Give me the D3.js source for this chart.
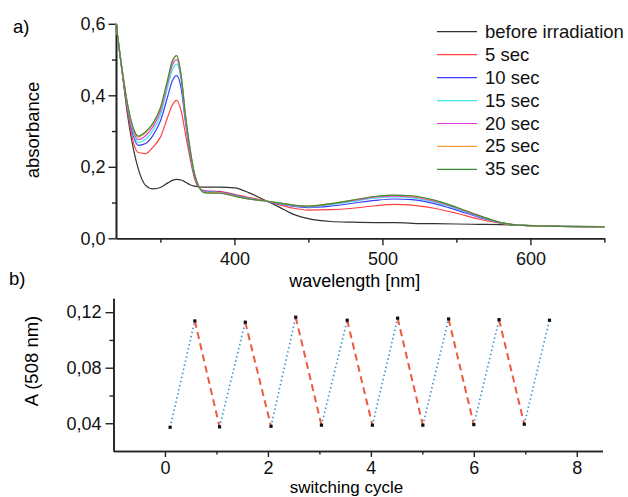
<!DOCTYPE html>
<html>
<head>
<meta charset="utf-8">
<script src="https://cdn.jsdelivr.net/npm/d3@7"></script>
<style>
  body { margin: 0; background: #fff; }
  svg { display: block; font-family: Arial, "Liberation Sans", sans-serif; }
  .axis path, .axis line { stroke: #222; }
  .axis text { font-size: 18px; fill: #111; }
</style>
</head>
<body>
<div id="chart"></div>
<script>
// panel a: absorption spectra
const wavelengths = [320, 324, 328, 332, 335, 340, 345, 350, 355, 358, 361, 364, 367, 370, 373, 376, 380, 390, 400, 410, 420, 430, 440, 450, 465, 480, 495, 508, 520, 535, 550, 565, 580, 595, 620, 650];
const beforeIrr = [0.600, 0.470, 0.340, 0.245, 0.195, 0.148, 0.138, 0.142, 0.155, 0.162, 0.165, 0.163, 0.157, 0.150, 0.146, 0.144, 0.143, 0.143, 0.141, 0.127, 0.108, 0.088, 0.067, 0.055, 0.047, 0.045, 0.044, 0.044, 0.042, 0.041, 0.040, 0.039, 0.038, 0.036, 0.034, 0.033];
const sec5  = [0.600, 0.470, 0.350, 0.265, 0.240, 0.237, 0.255, 0.283, 0.340, 0.372, 0.386, 0.357, 0.290, 0.225, 0.168, 0.142, 0.133, 0.131, 0.123, 0.114, 0.106, 0.094, 0.084, 0.079, 0.080, 0.084, 0.091, 0.095, 0.093, 0.084, 0.070, 0.054, 0.042, 0.036, 0.033, 0.032];
const sec10 = [0.600, 0.472, 0.360, 0.283, 0.260, 0.265, 0.288, 0.328, 0.398, 0.440, 0.455, 0.420, 0.322, 0.236, 0.174, 0.143, 0.131, 0.129, 0.121, 0.112, 0.105, 0.096, 0.089, 0.086, 0.090, 0.098, 0.106, 0.110, 0.108, 0.097, 0.079, 0.059, 0.043, 0.036, 0.033, 0.032];
const sec15 = [0.600, 0.474, 0.365, 0.291, 0.268, 0.277, 0.302, 0.344, 0.424, 0.470, 0.487, 0.442, 0.332, 0.243, 0.177, 0.144, 0.130, 0.128, 0.120, 0.111, 0.105, 0.097, 0.091, 0.088, 0.094, 0.103, 0.112, 0.1155, 0.113, 0.101, 0.083, 0.061, 0.043, 0.036, 0.033, 0.032];
const sec20 = [0.600, 0.475, 0.368, 0.297, 0.276, 0.287, 0.312, 0.355, 0.436, 0.484, 0.500, 0.450, 0.337, 0.247, 0.179, 0.145, 0.129, 0.127, 0.119, 0.110, 0.105, 0.098, 0.092, 0.089, 0.096, 0.105, 0.115, 0.118, 0.116, 0.104, 0.085, 0.062, 0.044, 0.036, 0.033, 0.032];
const sec25 = [0.600, 0.476, 0.370, 0.302, 0.283, 0.295, 0.319, 0.362, 0.443, 0.493, 0.510, 0.456, 0.341, 0.251, 0.181, 0.145, 0.128, 0.127, 0.118, 0.110, 0.105, 0.099, 0.093, 0.090, 0.097, 0.107, 0.117, 0.120, 0.118, 0.106, 0.087, 0.064, 0.044, 0.036, 0.033, 0.032];
const sec35 = [0.600, 0.476, 0.371, 0.305, 0.286, 0.298, 0.322, 0.365, 0.446, 0.496, 0.511, 0.457, 0.342, 0.252, 0.181, 0.145, 0.127, 0.126, 0.118, 0.110, 0.105, 0.099, 0.093, 0.090, 0.097, 0.107, 0.117, 0.121, 0.119, 0.107, 0.087, 0.064, 0.044, 0.036, 0.033, 0.032];
const seriesNames = ['before irradiation', '5 sec', '10 sec', '15 sec', '20 sec', '25 sec', '35 sec'];
const seriesValues = [beforeIrr, sec5, sec10, sec15, sec20, sec25, sec35];
const seriesColors = ['#333333', '#ff4040', '#3c3cff', '#3ee8e8', '#e03ce0', '#ff9c40', '#3a8f3a'];

// panel b: switching at 508 nm
const cyclePos = [0.10, 0.58, 1.06, 1.56, 2.06, 2.54, 3.04, 3.54, 4.03, 4.52, 5.01, 5.51, 6.00, 6.49, 6.98, 7.47];
const a508 = [0.0371, 0.1137, 0.0374, 0.1128, 0.0378, 0.1164, 0.0386, 0.1142, 0.0386, 0.1157, 0.0386, 0.1151, 0.0390, 0.1146, 0.0393, 0.1142];

const W = 628, H = 497;
const svg = d3.select('#chart').append('svg')
    .attr('width', W)
    .attr('height', H);

const comma = f => d => d3.format(f)(d).replace('.', ',');

// ---------- panel a ----------
const xA = d3.scaleLinear().domain([320, 650]).range([116, 604.4]);
const yA = d3.scaleLinear().domain([0, 0.6]).range([238.3, 23.8]);

function styleAxis(g) {
    g.select('.domain').attr('stroke-width', 1.6);
    g.selectAll('.tick line').attr('stroke-width', 1.4);
}

svg.append('g').attr('class', 'axis')
    .attr('transform', 'translate(0,238.3)')
    .call(d3.axisBottom(xA).tickValues([350, 450, 550, 650]).tickSize(4.5).tickSizeOuter(0).tickFormat(''))
    .call(styleAxis);
svg.append('g').attr('class', 'axis')
    .attr('transform', 'translate(0,238.3)')
    .call(d3.axisBottom(xA).tickValues([400, 500, 600]).tickSize(7).tickPadding(7).tickSizeOuter(0))
    .call(styleAxis);
svg.append('g').attr('class', 'axis')
    .attr('transform', 'translate(116,0)')
    .call(d3.axisLeft(yA).tickValues([0.1, 0.3, 0.5]).tickSize(4).tickSizeOuter(0).tickFormat(''))
    .call(styleAxis);
svg.append('g').attr('class', 'axis')
    .attr('transform', 'translate(116,0)')
    .call(d3.axisLeft(yA).tickValues([0, 0.2, 0.4, 0.6]).tickSize(7.5).tickPadding(3).tickSizeOuter(0).tickFormat(comma('.1f')))
    .call(styleAxis);

const lineA = d3.line()
    .x(d => xA(d[0]))
    .y(d => yA(d[1]))
    .curve(d3.curveMonotoneX);

seriesValues.forEach((vals, i) => {
    svg.append('path')
        .datum(wavelengths.map((w, j) => [w, vals[j]]))
        .attr('d', lineA)
        .attr('fill', 'none')
        .attr('stroke', seriesColors[i])
        .attr('stroke-width', 1.2);
});

// legend
const legend = svg.append('g').attr('transform', 'translate(437,31.7)');
seriesNames.forEach((name, i) => {
    const row = legend.append('g').attr('transform', `translate(0,${i * 22.95})`);
    row.append('line')
        .attr('x1', 0).attr('x2', 40)
        .attr('stroke', seriesColors[i])
        .attr('stroke-width', 1.2);
    row.append('text')
        .attr('x', 48).attr('y', 6)
        .attr('font-size', 18.5)
        .attr('fill', '#111')
        .text(name);
});

svg.append('text')
    .attr('x', 354.7).attr('y', 286.5)
    .attr('text-anchor', 'middle')
    .attr('font-size', 18)
    .text('wavelength [nm]');
svg.append('text')
    .attr('transform', 'translate(39,130) rotate(-90)')
    .attr('text-anchor', 'middle')
    .attr('font-size', 18.5)
    .text('absorbance');
svg.append('text')
    .attr('x', 13).attr('y', 33)
    .attr('font-size', 18.5)
    .text('a)');

// ---------- panel b ----------
const xB = d3.scaleLinear().domain([-1, 8.5]).range([113.5, 602.5]);
const yB = d3.scaleLinear().domain([0.02, 0.13]).range([451, 298.3]);

svg.append('g').attr('class', 'axis')
    .attr('transform', 'translate(0,451)')
    .call(d3.axisBottom(xB).tickValues([1, 3, 5, 7]).tickSize(3.5).tickSizeOuter(0).tickFormat(''))
    .call(styleAxis);
svg.append('g').attr('class', 'axis')
    .attr('transform', 'translate(0,451)')
    .call(d3.axisBottom(xB).tickValues([0, 2, 4, 6, 8]).tickSize(6).tickPadding(4).tickSizeOuter(0))
    .call(styleAxis);
svg.append('g').attr('class', 'axis')
    .attr('transform', 'translate(113.5,0)')
    .call(d3.axisLeft(yB).tickValues([0.06, 0.10]).tickSize(4).tickSizeOuter(0).tickFormat(''))
    .call(styleAxis);
svg.append('g').attr('class', 'axis')
    .attr('transform', 'translate(113.5,0)')
    .call(d3.axisLeft(yB).tickValues([0.04, 0.08, 0.12]).tickSize(8).tickPadding(4).tickSizeOuter(0).tickFormat(comma('.2f')))
    .call(styleAxis);

// segments: rising = irradiation (blue dotted), falling = recovery (red dashed)
for (let i = 0; i < cyclePos.length - 1; i++) {
    const rising = i % 2 === 0;
    svg.append('line')
        .attr('x1', xB(cyclePos[i])).attr('y1', yB(a508[i]))
        .attr('x2', xB(cyclePos[i + 1])).attr('y2', yB(a508[i + 1]))
        .attr('stroke', rising ? '#3f8fce' : '#ec5a40')
        .attr('stroke-width', rising ? 1.7 : 2)
        .attr('stroke-dasharray', rising ? '1.4,2.8' : '7,4.5');
}

svg.selectAll('.pt')
    .data(cyclePos.map((c, i) => [c, a508[i]]))
    .join('rect')
    .attr('class', 'pt')
    .attr('x', d => xB(d[0]) - 1.6)
    .attr('y', d => yB(d[1]) - 1.6)
    .attr('width', 3.2)
    .attr('height', 3.2)
    .attr('fill', '#111');

svg.append('text')
    .attr('x', 346.5).attr('y', 493.2)
    .attr('text-anchor', 'middle')
    .attr('font-size', 17)
    .text('switching cycle');
svg.append('text')
    .attr('transform', 'translate(38,361) rotate(-90)')
    .attr('text-anchor', 'middle')
    .attr('font-size', 18.5)
    .text('A (508 nm)');
svg.append('text')
    .attr('x', 9).attr('y', 285)
    .attr('font-size', 18.5)
    .text('b)');
</script>
</body>
</html>
